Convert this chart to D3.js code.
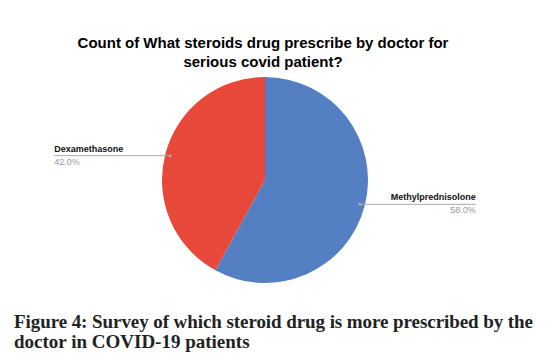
<!DOCTYPE html>
<html>
<head>
<meta charset="utf-8">
<script src="https://cdn.jsdelivr.net/npm/d3@7"></script>
<style>
  body { margin: 0; background: #fff; }
  svg { display: block; }
</style>
</head>
<body>
<div id="chart"></div>
<script>
// data
var drugs = ["Methylprednisolone", "Dexamethasone"];
var counts = [58, 42];
var sliceColors = ["#5480c3", "#e8483a"];
var titleLines = ["Count of What steroids drug prescribe by doctor for", "serious covid patient?"];
var captionLines = ["Figure 4: Survey of which steroid drug is more prescribed by the", "doctor in COVID-19 patients"];

var width = 545, height = 360;
var cx = 265, cy = 180, radius = 103;

var svg = d3.select("#chart").append("svg")
    .attr("width", width)
    .attr("height", height);

// chart title
svg.append("g").selectAll("text")
    .data(titleLines)
    .enter().append("text")
    .attr("x", 263)
    .attr("y", function(d, i) { return 48 + i * 18.5; })
    .attr("text-anchor", "middle")
    .style("font-family", "Liberation Sans, Arial, sans-serif")
    .style("font-weight", "bold")
    .style("font-size", "15px")
    .attr("fill", "#000")
    .text(function(d) { return d; });

var total = d3.sum(counts);
var data = drugs.map(function(d, i) { return {name: d, value: counts[i], color: sliceColors[i]}; });

var pie = d3.pie().sort(null).value(function(d) { return d.value; });
var arc = d3.arc().innerRadius(0).outerRadius(radius);
var dotArc = d3.arc().innerRadius(radius * 0.95).outerRadius(radius * 0.95);

var g = svg.append("g").attr("transform", "translate(" + cx + "," + cy + ")");

var arcs = pie(data);

g.selectAll("path")
    .data(arcs)
    .enter().append("path")
    .attr("d", arc)
    .attr("fill", function(d) { return d.data.color; });

// labels with leader lines
var lineLen = 116;
arcs.forEach(function(d) {
    var p = dotArc.centroid(d);
    var right = p[0] > 0;
    var x2 = right ? p[0] + lineLen : p[0] - lineLen;
    var lab = g.append("g");
    lab.append("line")
        .attr("x1", p[0]).attr("y1", p[1])
        .attr("x2", x2).attr("y2", p[1])
        .attr("stroke", "#aaa")
        .attr("stroke-width", 1);
    lab.append("circle")
        .attr("cx", p[0]).attr("cy", p[1])
        .attr("r", 1.5)
        .attr("fill", "#aaa");
    lab.append("text")
        .attr("x", x2)
        .attr("y", p[1] - 4)
        .attr("text-anchor", right ? "end" : "start")
        .style("font-family", "Liberation Sans, Arial, sans-serif")
        .style("font-weight", "bold")
        .style("font-size", "9px")
        .attr("fill", "#111")
        .text(d.data.name);
    lab.append("text")
        .attr("x", x2)
        .attr("y", p[1] + 9)
        .attr("text-anchor", right ? "end" : "start")
        .style("font-family", "Liberation Sans, Arial, sans-serif")
        .style("font-size", "9px")
        .attr("fill", "#999")
        .text((100 * d.data.value / total).toFixed(1) + "%");
});

// figure caption below the chart
svg.append("text")
    .attr("x", 14)
    .attr("y", 327.5)
    .attr("textLength", 519)
    .attr("lengthAdjust", "spacing")
    .style("font-family", "Liberation Serif, Times New Roman, serif")
    .style("font-weight", "bold")
    .style("font-size", "19px")
    .attr("fill", "#222")
    .text(captionLines[0]);

svg.append("text")
    .attr("x", 14)
    .attr("y", 348)
    .style("font-family", "Liberation Serif, Times New Roman, serif")
    .style("font-weight", "bold")
    .style("font-size", "19px")
    .attr("fill", "#222")
    .text(captionLines[1]);
</script>
</body>
</html>
